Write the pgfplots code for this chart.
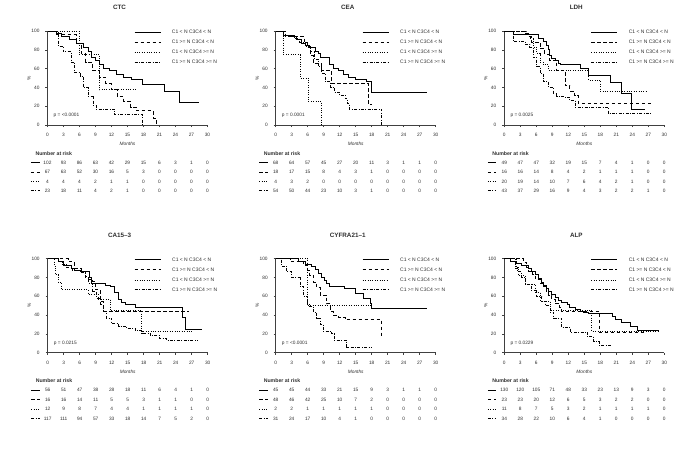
\documentclass[border=0pt]{standalone}
\usepackage{fontspec}
\setmainfont{Liberation Sans}
\usepackage{pgfplots}
\usepackage{pgfplotstable}
\pgfplotsset{compat=1.18}
\definecolor{txt}{gray}{0.18}
\newcommand{\fs}[1]{\fontsize{#1}{#1}\selectfont}

\pgfplotsset{
  km/.style={
    anchor=south west,
    scale only axis, width=160pt, height=94pt,
    xmin=0, xmax=30, ymin=0, ymax=100,
    axis lines=left, axis line style={-, black!75, line width=0.5pt},
    xtick={0,3,...,30}, ytick={0,20,...,100},
    tick align=outside, major tick length=2pt,
    tick style={black!75, line width=0.5pt},
    ticklabel style={font=\fs{4.8}, text=txt},
    xticklabel style={yshift=-3pt},
    yticklabel style={xshift=-2.5pt},
    /pgf/number format/assume math mode=true,
    clip=false,
    title style={font=\bfseries\fs{6.3}, text=txt, at={(rel axis cs:0.45,1.19)}, anchor=center},
    xlabel={\itshape Months},
    xlabel style={font=\fs{4.8}, text=txt, at={(rel axis cs:0.5,-0.2)}, anchor=center},
    ylabel={\%},
    ylabel style={font=\fs{4.8}, text=txt, at={(rel axis cs:-0.116,0.5)}, anchor=center},
    legend style={at={(rel axis cs:0.54,1.013)}, anchor=north west, draw=none, fill=none,
      inner sep=0pt, font=\fs{5}, text=txt, row sep=5.6pt,
      nodes={inner sep=0pt, text height=3.6pt, text depth=0.8pt},
      /tikz/every odd column/.style={column sep=11pt}},
    legend cell align=left,
    legend image code/.code={\draw[##1] (0pt,0pt) -- (26pt,0pt);},
  },
  s1/.style={const plot, black, line width=0.85pt},
  s2/.style={const plot, black, line width=0.85pt, dash pattern=on 3.5pt off 2.5pt},
  s3/.style={const plot, black, line width=0.75pt, dash pattern=on 0.8pt off 1.6pt},
  s4/.style={const plot, black, line width=0.85pt, dash pattern=on 3pt off 1.5pt on 0.8pt off 1.5pt},
  riskrow/.style={draw=none, forget plot, nodes near coords, nodes near coords align={center},
    point meta=explicit symbolic,
    every node near coord/.append style={font=\fs{4.8}, text=txt, inner sep=0pt}},
}

\newcommand{\risk}[1]{%
  \addplot[riskrow] table[x=x, y expr=-40, meta=a] {#1};
  \addplot[riskrow] table[x=x, y expr=-50, meta=b] {#1};
  \addplot[riskrow] table[x=x, y expr=-60, meta=c] {#1};
  \addplot[riskrow] table[x=x, y expr=-70, meta=d] {#1};
  \addplot[s1, forget plot] coordinates {(-3.1,-40) (-1.5,-40)};
  \addplot[s2, forget plot] coordinates {(-3.1,-50) (-1.5,-50)};
  \addplot[s3, forget plot] coordinates {(-3.1,-60) (-1.5,-60)};
  \addplot[s4, forget plot] coordinates {(-3.1,-70) (-1.5,-70)};
  \node[anchor=west, font=\bfseries\fs{5.2}, text=txt] at (axis cs:-2.9,-30) {Number at risk};
}
\newcommand{\pval}[1]{\node[anchor=west, font=\fs{4.8}, text=txt] at (axis cs:0.5,10.5) {#1};}

\pgfplotstableread{
x a b c d
0 102 67 4 23
3 93 63 4 18
6 86 52 4 11
9 63 30 2 4
12 42 16 1 2
15 29 5 1 1
18 15 3 0 0
21 6 0 0 0
24 3 0 0 0
27 1 0 0 0
30 0 0 0 0
}\riskCTC
\pgfplotstableread{
x a b c d
0 68 18 4 54
3 64 17 3 50
6 57 15 2 44
9 45 8 0 23
12 27 4 0 10
15 20 3 0 3
18 11 1 0 1
21 3 0 0 0
24 1 0 0 0
27 1 0 0 0
30 0 0 0 0
}\riskCEA
\pgfplotstableread{
x a b c d
0 49 16 20 43
3 47 16 19 37
6 47 14 14 29
9 32 8 10 16
12 19 4 7 9
15 15 2 6 4
18 7 1 4 3
21 4 1 2 2
24 1 1 1 2
27 0 0 0 1
30 0 0 0 0
}\riskLDH
\pgfplotstableread{
x a b c d
0 56 16 12 117
3 51 16 9 111
6 47 14 8 94
9 38 11 7 57
12 28 5 4 33
15 18 5 4 18
18 11 3 1 14
21 6 1 1 7
24 4 1 1 5
27 1 0 1 2
30 0 0 0 0
}\riskCA
\pgfplotstableread{
x a b c d
0 45 48 2 31
3 45 46 2 24
6 44 42 1 17
9 33 25 1 10
12 21 10 1 4
15 15 7 1 1
18 9 2 1 0
21 3 0 0 0
24 1 0 0 0
27 1 0 0 0
30 0 0 0 0
}\riskCY
\pgfplotstableread{
x a b c d
0 130 23 11 34
3 120 23 8 28
6 105 20 7 22
9 71 12 5 10
12 48 6 3 6
15 33 5 2 4
18 23 3 1 1
21 13 2 1 0
24 9 2 1 0
27 3 0 1 0
30 0 0 0 0
}\riskALP

\begin{document}
\begin{tikzpicture}
\useasboundingbox (0,0) rectangle (685pt,-456pt);

% ---------------- CTC
\begin{axis}[km, at={(47.5pt,-125pt)}, title={CTC}]
\addplot[s1] coordinates {(0,100)(1.7,97)(2.6,94)(4.2,91)(5.4,87)(6.7,83)(7.6,78)(8.2,72)(8.9,69)(9.8,64)(10.4,60)(11.7,58)(12.9,54)(14.2,51)(15.7,49)(17.8,43.5)(22,36)(24.8,24)(28.4,24)};
\addlegendentry{C1 < N C3C4 < N}
\addplot[s2] coordinates {(0,100)(1.7,96)(5.4,87)(6.3,76)(7.2,67)(8.4,58)(9.7,51)(10.9,44)(11.9,38)(13.1,30)(14.3,25)(15.6,19)(16.7,15)(19.8,7)(20.4,0)};
\addlegendentry{C1 >= N C3C4 < N}
\addplot[s3] coordinates {(0,100)(5.9,75)(9.7,37.5)(16.8,37.5)};
\addlegendentry{C1 < N C3C4 >= N}
\addplot[s4] coordinates {(0,100)(2,84)(2.9,78)(4.4,67)(5.1,56)(6.1,52)(6.7,40)(7.6,30)(8.6,21)(9.1,17)(12.6,11)(17.8,0)};
\addlegendentry{C1 >= N C3C4 >= N}
\pval{p = <0.0001}
\risk{\riskCTC}
\end{axis}

% ---------------- CEA
\begin{axis}[km, at={(275.7pt,-125pt)}, title={CEA}]
\addplot[s1] coordinates {(0,100)(1.4,95)(3,94)(3.9,91)(4.9,87)(5.5,85)(6.4,82)(7.4,78)(8,76)(8.3,72)(10.1,64)(10.8,60)(11.75,58)(12.7,54)(13.6,51)(14.9,49)(16.1,48)(17.1,46)(18,35)(28.4,35)};
\addlegendentry{C1 < N C3C4 < N}
\addplot[s2] coordinates {(0,100)(1.75,94)(5.3,88)(5.9,83)(6.5,74)(7.1,65)(8.6,58)(10.5,44)(17.4,22)(18,22)};
\addlegendentry{C1 >= N C3C4 < N}
\addplot[s3] coordinates {(0,100)(1.4,75)(4.6,50)(6.1,25)(8.6,0)};
\addlegendentry{C1 < N C3C4 >= N}
\addplot[s4] coordinates {(0,100)(1.5,95)(3.5,92)(4.5,88)(5.5,84)(6.5,78)(7.2,70)(8,62)(8.6,55)(9.3,46)(10.3,40)(11,35)(12,32)(13,28)(13.4,23)(13.8,17)(19.9,0)};
\addlegendentry{C1 >= N C3C4 >= N}
\pval{p = 0.0001}
\risk{\riskCEA}
\end{axis}

% ---------------- LDH
\begin{axis}[km, at={(504.3pt,-125pt)}, title={LDH}]
\addplot[s1] coordinates {(0,100)(1.7,96)(6.4,92)(7.3,89)(7.9,85)(8.3,80)(8.5,74)(8.9,71)(9.5,69)(10.1,65)(10.5,64)(14.2,60)(15.8,53)(19.85,45)(21.9,34)(23.8,17)(26.3,17)};
\addlegendentry{C1 < N C3C4 < N}
\addplot[s2] coordinates {(0,100)(3.9,97)(4.5,94)(5.1,88)(6.7,81)(7.6,75)(8.4,69)(9.8,58)(11.4,42)(12.3,36)(13.2,31)(13.9,23)(27.7,23)};
\addlegendentry{C1 >= N C3C4 < N}
\addplot[s3] coordinates {(0,100)(4.2,97)(4.8,92)(5.4,83)(6.1,76)(6.7,67)(7.3,64)(8.3,58)(15.8,48)(18,36)(26.7,36)};
\addlegendentry{C1 < N C3C4 >= N}
\addplot[s4] coordinates {(0,100)(1.7,89)(3.9,86)(4.8,83)(5.4,72)(6.1,62)(6.7,55)(7.3,46)(8.3,40)(9.2,34)(9.8,30)(11.4,29)(12.3,26)(13.3,19)(19.5,12)(27.7,12)};
\addlegendentry{C1 >= N C3C4 >= N}
\pval{p = 0.0025}
\risk{\riskLDH}
\end{axis}

% ---------------- CA15-3
\begin{axis}[km, at={(47.7pt,-352.7pt)}, title={CA15--3}]
\addplot[s1] coordinates {(0,100)(2,97)(2.9,93)(4.5,90)(5.1,88)(6.1,86)(7.9,80)(8.25,74)(10.75,72)(11.7,70)(12.6,64)(13.25,57)(13.9,54)(14.5,51)(16.4,48)(25.3,38)(25.9,25)(29,25)};
\addlegendentry{C1 < N C3C4 < N}
\addplot[s2] coordinates {(0,100)(3.9,97)(5,90)(6.3,87)(7,81)(7.6,78)(8.3,76)(8.9,67)(9.8,55)(10.4,44)(26.4,44)};
\addlegendentry{C1 >= N C3C4 < N}
\addplot[s3] coordinates {(0,100)(1.25,92)(1.4,83)(2,75)(2.6,67)(7.6,62)(9.5,57)(11.7,45)(17.6,23)(27.2,23)};
\addlegendentry{C1 < N C3C4 >= N}
\addplot[s4] coordinates {(0,100)(2,97)(2.7,94)(3.6,91)(4.6,88)(6.1,85)(7,80)(7.6,74)(8.4,65)(9.1,58)(9.8,51)(10.4,44)(11,37)(12,31)(13.3,28)(14.8,26)(16.4,24)(17.6,21)(19.2,18)(21,15)(22.3,13)(28.2,13)};
\addlegendentry{C1 >= N C3C4 >= N}
\pval{p = 0.0215}
\risk{\riskCA}
\end{axis}

% ---------------- CYFRA21-1
\begin{axis}[km, at={(275.7pt,-352.7pt)}, title={CYFRA21--1}]
\addplot[s1] coordinates {(0,100)(4.25,97)(5.5,94)(6.75,92)(7.4,89)(8,84)(8.6,80)(9.2,77)(9.6,74)(10,71)(12.8,68)(15,63)(16.5,58)(17.7,52)(18,47)(28.3,47)};
\addlegendentry{C1 < N C3C4 < N}
\addplot[s2] coordinates {(0,100)(2.7,97)(5.2,93)(6,88)(6.4,82)(7.1,75)(7.7,69)(8.3,61)(9.6,52)(10.2,44)(10.8,40)(11.75,38)(13,35)(19.9,17)(20.1,17)};
\addlegendentry{C1 >= N C3C4 < N}
\addplot[s3] coordinates {(0,100)(6,50)(18.1,50)};
\addlegendentry{C1 < N C3C4 >= N}
\addplot[s4] coordinates {(0,100)(1.1,92)(2,86)(3,80)(4.6,70)(5.2,60)(5.9,52)(6.4,49)(7.1,43)(7.7,37)(8.3,30)(8.9,23)(10.5,20)(11,13)(13.3,6)(18,6)};
\addlegendentry{C1 >= N C3C4 >= N}
\pval{p = <0.0001}
\risk{\riskCY}
\end{axis}

% ---------------- ALP
\begin{axis}[km, at={(504.3pt,-352.7pt)}, title={ALP}]
\addplot[s1] coordinates {(0,100)(1.1,97)(2.3,95)(3.25,93)(4.5,90)(5.1,87)(5.8,83)(6.4,79)(6.9,75)(7.3,72)(7.9,68)(8.3,65)(8.9,62)(9.5,59)(10.1,56)(10.8,54)(11.8,51)(12.3,48)(13.3,46)(14.2,44)(14.8,43)(15.8,42)(20.2,39)(20.8,35)(22,32)(23.6,28)(24.9,24)(29,24)};
\addlegendentry{C1 < N C3C4 < N}
\addplot[s2] coordinates {(0,100)(3.6,96)(4.2,91)(4.6,87)(5.3,83)(5.8,78)(6.7,74)(7.3,70)(7.9,65)(8.3,61)(8.9,57)(9.5,52)(10.4,48)(10.8,44)(17.8,22)(26.5,22)};
\addlegendentry{C1 >= N C3C4 < N}
\addplot[s3] coordinates {(0,100)(2.3,91)(2.6,82)(3.9,73)(5.8,64)(6.7,55)(8.6,45)(16.4,23)(29,23)};
\addlegendentry{C1 < N C3C4 >= N}
\addplot[s4] coordinates {(0,100)(2,90)(2.5,86)(3.3,80)(4,73)(5,66)(6,60)(7,55)(7.7,50)(8.6,43)(9.3,37)(10.7,27)(12.4,22)(15.5,17)(16.8,12)(17.8,8)(20,8)};
\addlegendentry{C1 >= N C3C4 >= N}
\pval{p = 0.0229}
\risk{\riskALP}
\end{axis}
\end{tikzpicture}
\end{document}
